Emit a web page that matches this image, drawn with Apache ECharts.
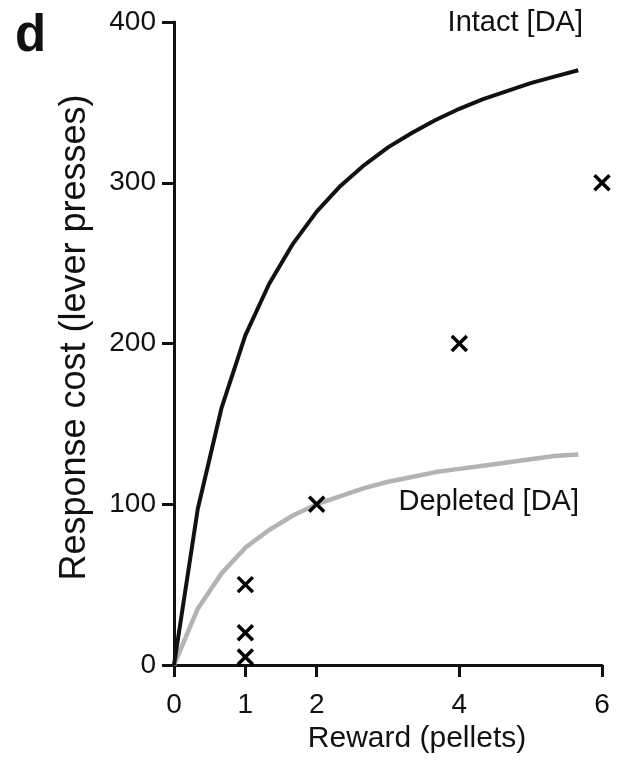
<!DOCTYPE html>
<html>
<head>
<meta charset="utf-8">
<script src="https://cdn.jsdelivr.net/npm/echarts@6/dist/echarts.min.js"></script>
<style>
  html, body { margin: 0; padding: 0; background: #fff; }
  #chart { width: 630px; height: 772px; }
</style>
</head>
<body>
<div id="chart"></div>
<script>
// reward values where the fitted curves were drawn (pellets)
var curveX = [0, 0.333, 0.667, 1, 1.333, 1.667, 2, 2.333, 2.667, 3, 3.333, 3.667, 4, 4.333, 4.667, 5, 5.333, 5.667];
// intact [DA] curve
var intactY = [0, 97, 160, 205, 237, 262, 282, 298, 311, 322, 331, 339, 346, 352, 357, 362, 366, 370];
// depleted [DA] curve
var depletedY = [0, 35, 57, 73, 84, 93, 100, 105, 110, 114, 117, 120, 122, 124, 126, 128, 130, 131];
// schedule points (reward, lever presses)
var schedX = [1, 1, 1, 2, 4, 6];
var schedY = [5, 20, 50, 100, 200, 300];
var xTicks = [0, 1, 2, 4, 6];

var FONT = "'Liberation Sans', Arial, Helvetica, sans-serif";
var INK = '#111';

function pairs(xs, ys) {
    return xs.map(function (x, i) { return [x, ys[i]]; });
}

var myChart = echarts.init(document.getElementById('chart'));

var option = {
    backgroundColor: '#fff',
    animation: false,
    grid: { left: 174, right: 28, top: 22, bottom: 107 },
    xAxis: {
        type: 'value',
        min: 0,
        max: 6,
        interval: 1,
        name: 'Reward (pellets)',
        nameLocation: 'middle',
        nameGap: 56,
        nameTextStyle: { fontFamily: FONT, fontSize: 30, color: INK, padding: [0, 0, 0, 58] },
        axisLine: { lineStyle: { color: INK, width: 3 } },
        axisTick: { show: true, customValues: xTicks, length: 12, lineStyle: { color: INK, width: 3 } },
        axisLabel: { customValues: xTicks, fontFamily: FONT, fontSize: 28, color: INK, margin: 26 },
        splitLine: { show: false }
    },
    yAxis: {
        type: 'value',
        min: 0,
        max: 400,
        interval: 100,
        name: 'Response cost (lever presses)',
        nameLocation: 'middle',
        nameGap: 81,
        nameTextStyle: { fontFamily: FONT, fontSize: 36, color: INK, padding: [0, 0, 0, 12] },
        axisLine: { show: true, lineStyle: { color: INK, width: 3 } },
        axisTick: { show: true, length: 12, lineStyle: { color: INK, width: 3 } },
        axisLabel: { fontFamily: FONT, fontSize: 28, color: INK, margin: 18 },
        splitLine: { show: false }
    },
    graphic: [
        { type: 'text', left: 15, top: 11, style: { text: 'd', font: 'bold 51px ' + FONT, fill: INK } },
        { type: 'text', right: 47, top: 8, style: { text: 'Intact [DA]', font: '29px ' + FONT, fill: INK } },
        { type: 'text', right: 51, top: 487, style: { text: 'Depleted [DA]', font: '29px ' + FONT, fill: INK } }
    ],
    series: [
        {
            type: 'line',
            data: pairs(curveX, depletedY),
            showSymbol: false,
            smooth: false,
            lineStyle: { color: '#b3b3b3', width: 4.5 },
            z: 2
        },
        {
            type: 'line',
            data: pairs(curveX, intactY),
            showSymbol: false,
            smooth: false,
            lineStyle: { color: INK, width: 4 },
            z: 3
        },
        {
            type: 'scatter',
            data: pairs(schedX, schedY),
            symbol: 'path://M0,0L10,10M10,0L0,10',
            symbolSize: 15,
            itemStyle: { color: '#000', borderColor: '#000', borderWidth: 3.5, opacity: 1 },
            z: 4
        }
    ]
};

myChart.setOption(option);
</script>
</body>
</html>
